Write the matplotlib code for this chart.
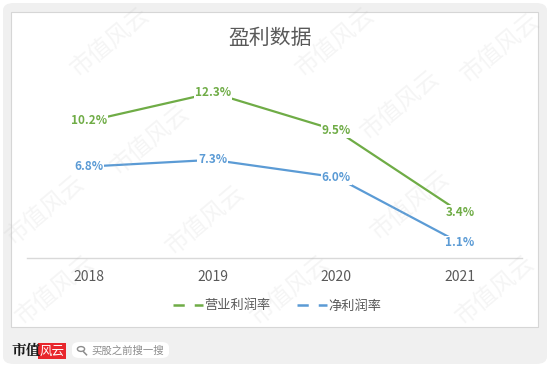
"""盈利数据 折线图复刻"""
import matplotlib
matplotlib.use('Agg')
import matplotlib.pyplot as plt
from matplotlib.patches import FancyBboxPatch, Rectangle, Circle
from matplotlib.lines import Line2D

plt.rcParams['font.family'] = ['Noto Sans CJK SC', 'DejaVu Sans']

# 数据
years = ["2018", "2019", "2020", "2021"]
op_margin = [10.2, 12.3, 9.5, 3.4]      # 营业利润率
net_margin = [6.8, 7.3, 6.0, 1.1]       # 净利润率
series_names = ["营业利润率", "净利润率"]
title = "盈利数据"

GREEN = "#6FAC46"
BLUE = "#5B9BD5"
GREY_TXT = "#595959"

W, H = 550, 367
fig = plt.figure(figsize=(W / 100, H / 100), dpi=100)
fig.patch.set_facecolor("white")


def fx(px):
    return px / W


def fy(py):
    return 1 - py / H


# 外框 灰色圆角背景 + 白色卡片
fig.patches.append(FancyBboxPatch((fx(3), fy(364)), fx(544), 361 / H,
                                  boxstyle="round,pad=0,rounding_size=0.02",
                                  transform=fig.transFigure, facecolor="#F0F0F0",
                                  edgecolor="none", zorder=0))
fig.patches.append(Rectangle((fx(11), fy(327)), fx(527), 315 / H,
                             transform=fig.transFigure, facecolor="white",
                             edgecolor="#D6D6D6", linewidth=0.8, zorder=1))

# 绘图区
ax = fig.add_axes([fx(27), fy(257.7), fx(495), (257.7 - 70) / H])
ax.set_zorder(3)
ax.patch.set_alpha(0)
x = list(range(len(years)))
ax.plot(x, op_margin, color=GREEN, linewidth=1.6, solid_capstyle='butt', zorder=2)
ax.plot(x, net_margin, color=BLUE, linewidth=1.6, solid_capstyle='butt', zorder=2)

for vals, col in [(op_margin, GREEN), (net_margin, BLUE)]:
    for xi, v in zip(x, vals):
        ax.text(xi, v, f"{v:.1f}%", color=col, fontsize=8.5, fontweight='bold',
                ha='center', va='center', zorder=4,
                bbox=dict(facecolor='white', edgecolor='none', pad=0.6))

ax.set_xlim(-0.5, 3.5)
ax.set_ylim(0, 14)
ax.set_xticks(x)
ax.set_xticklabels(years, fontsize=10, color=GREY_TXT)
ax.tick_params(axis='x', length=0, pad=9)
ax.set_yticks([])
for s in ["top", "left", "right"]:
    ax.spines[s].set_visible(False)
ax.spines["bottom"].set_color("#D9D9D9")
ax.spines["bottom"].set_linewidth(1.0)

fig.text(fx(270), fy(38), title, fontsize=15, color=GREY_TXT, ha='center', va='center',
         zorder=5)

# 图例
handles = [Line2D([], [], color=GREEN, linewidth=1.8, linestyle=(0, (4.5, 4))),
           Line2D([], [], color=BLUE, linewidth=1.8, linestyle=(0, (4.5, 4)))]
leg = fig.legend(handles, series_names, loc='center', bbox_to_anchor=(fx(277), fy(306)),
                 ncol=2, frameon=False, fontsize=9.5, handlelength=2.3,
                 handletextpad=0.1, columnspacing=2.0, labelcolor=GREY_TXT)

# 水印
marks = [(110, 42), (335, 42), (500, 48), (400, 105), (150, 140), (45, 210),
         (205, 220), (410, 205), (55, 290), (290, 290), (495, 290)]
for mx, my in marks:
    fig.text(fx(mx), fy(my), "市值风云", fontsize=17, color="#BDBDBD", alpha=0.15,
             rotation=40, ha='center', va='center', zorder=6, fontweight='light')

# 底部 logo 与搜索框
fig.text(fx(12), fy(351), "市值", fontsize=10.5, fontweight='bold', color="#1A1A1A",
         ha='left', va='center', zorder=7, family=['Noto Serif CJK SC', 'Noto Sans CJK SC'])
fig.patches.append(Rectangle((fx(38), fy(359)), fx(28), 16 / H, transform=fig.transFigure,
                             facecolor="#E8262C", edgecolor="none", zorder=7))
fig.text(fx(52), fy(351), "风云", fontsize=9, color="white", style='italic',
         ha='center', va='center', zorder=8)
fig.patches.append(FancyBboxPatch((fx(72), fy(358)), fx(97), 16 / H,
                                  boxstyle="round,pad=0,rounding_size=0.014",
                                  transform=fig.transFigure, facecolor="white",
                                  edgecolor="none", zorder=7))
# 放大镜图标
fig.patches.append(Circle((fx(81), fy(349)), fx(3.6), transform=fig.transFigure,
                          facecolor='none', edgecolor="#8C8C8C", linewidth=1.0, zorder=8))
fig.lines.append(Line2D([fx(83.6), fx(86.5)], [fy(351.8), fy(354.8)],
                        transform=fig.transFigure, color="#8C8C8C", linewidth=1.1, zorder=8))
fig.text(fx(91), fy(350.5), "买股之前搜一搜", fontsize=7.5, color="#8C8C8C", ha='left',
         va='center', zorder=8)

fig.savefig("out.png", dpi=100)
